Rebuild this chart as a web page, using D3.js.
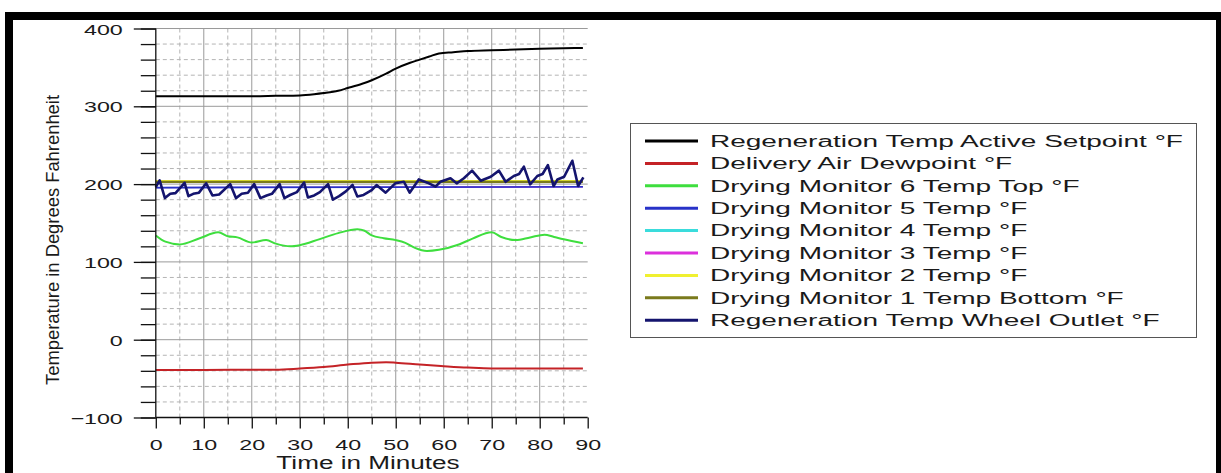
<!DOCTYPE html>
<html>
<head>
<meta charset="utf-8">
<script src="https://cdn.jsdelivr.net/npm/d3@7"></script>
<style>
  html, body { margin: 0; padding: 0; background: #fff; }
  svg { display: block; font-family: "Liberation Sans", Arial, Helvetica, sans-serif; }
</style>
</head>
<body>
<svg id="chart" width="1221" height="473"></svg>
<script>
// ---- readings (minutes, °F) ----
const setpointMin  = [0, 10, 20, 25, 30, 33, 35, 38, 40, 43, 45, 48, 50, 53, 55, 57, 59, 62, 65, 70, 75, 80, 85, 89];
const setpointTemp = [313, 313, 313, 313.5, 314, 315.5, 317, 320, 323.5, 329, 333.5, 342, 348.5, 356, 360, 364, 368, 369.5, 371, 372, 373, 374, 374.5, 375];

const dewpointMin  = [0, 10, 20, 25, 30, 35, 40, 45, 48, 50, 55, 60, 65, 70, 80, 89];
const dewpointTemp = [-39, -39, -38.5, -38.5, -37, -35, -32, -29.5, -29, -29.5, -32, -34, -35.8, -37, -37, -37];

const dm6Min  = [0, 2, 5, 9, 13, 15, 17, 20, 23, 25, 28, 30, 34, 38, 42, 43.5, 45, 47.5, 50, 52, 54, 56.5, 59, 63, 66, 70, 72, 75, 78, 81, 83, 85, 89];
const dm6Temp = [134, 126, 122.5, 130, 138, 133, 131.5, 125, 128, 123.5, 120, 121.5, 129, 137, 142, 140, 134, 130.5, 128, 124.5, 118, 114, 115.5, 122, 130, 138, 132, 128, 131.5, 135, 132, 129, 124];

const dm5Min  = [0, 89];
const dm5Temp = [195.5, 196.5];
const dm4Min  = [0, 89];
const dm4Temp = [195.5, 196.5];
const dm3Min  = [0, 89];
const dm3Temp = [195.5, 196.5];
const dm2Min  = [0, 89];
const dm2Temp = [204, 204];
const dm1Min  = [0, 89];
const dm1Temp = [202.8, 202.8];

const outletMin = [0, 0.8, 1.9, 3, 4.1, 6, 6.8, 7.8, 9, 10.5, 11.8, 13.2, 15.5, 16.7, 17.9, 19.2, 20.5, 21.8, 23.1, 24.2,
  25.8, 26.8, 28, 29.4, 30.9, 31.7, 33, 34.2, 35.9, 36.9, 38.2, 39.6, 41, 42, 43.3, 44.9, 46, 47.9, 49.9, 51.7,
  52.9, 54.8, 56.6, 58.3, 59.3, 61.4, 62.7, 64.2, 65.9, 67.7, 69.8, 71.5, 72.9, 74.6, 75.7, 76.7, 78, 79.5, 80.6,
  81.7, 82.9, 83.7, 85.1, 86.8, 88, 89.1];
const outletTemp = [196, 204.7, 182, 187.5, 188.4, 201.7, 184.5, 187.5, 189, 201, 185.4, 186.7, 200, 182, 187.5, 189, 200, 182, 185.4, 187.5,
  200, 182, 186, 189.7, 202, 182.8, 185.4, 189.7, 200, 180, 184.5, 190.6, 199, 184, 186, 191.8, 198.8, 189, 201, 203,
  189, 206, 201.8, 196.7, 203, 207.5, 201, 207.5, 217.3, 204.4, 209.5, 217.3, 203, 210.4, 213, 222.4, 199.7, 210.4, 213,
  224.5, 197.5, 206, 209.5, 230, 197.5, 208.7];

const seriesNames = [
  "Regeneration Temp Active Setpoint °F",
  "Delivery Air Dewpoint °F",
  "Drying Monitor 6 Temp Top °F",
  "Drying Monitor 5 Temp °F",
  "Drying Monitor 4 Temp °F",
  "Drying Monitor 3 Temp °F",
  "Drying Monitor 2 Temp °F",
  "Drying Monitor 1 Temp Bottom °F",
  "Regeneration Temp Wheel Outlet °F"
];
const seriesMinutes = [setpointMin, dewpointMin, dm6Min, dm5Min, dm4Min, dm3Min, dm2Min, dm1Min, outletMin];
const seriesTemps   = [setpointTemp, dewpointTemp, dm6Temp, dm5Temp, dm4Temp, dm3Temp, dm2Temp, dm1Temp, outletTemp];

const xTickValues = [0, 10, 20, 30, 40, 50, 60, 70, 80, 90];
const yTickValues = [-100, 0, 100, 200, 300, 400];
const xTitle = "Time in Minutes";
const yTitle = "Temperature in Degrees Fahrenheit";

// ---- styles ----
const colors = ["#000000", "#c42226", "#3ede3e", "#2832c8", "#3adcdc", "#dc30dc", "#f0f030", "#7a7a1c", "#14146e"];
const plotWidths = [2, 2, 2, 1.6, 1.4, 1.4, 2, 2.4, 2.6];
const drawOrder = [4, 5, 3, 6, 7, 1, 2, 0, 8];
const smooth = [true, true, true, false, false, false, false, false, false];

const svg = d3.select("#chart");

const x = d3.scaleLinear().domain([0, 90]).range([155.8, 587.7]);
const y = d3.scaleLinear().domain([-100, 400]).range([417.5, 28.5]);

// stretch text horizontally to a given factor of its natural width
function stretch(sel, factor) {
  sel.each(function () {
    const w = this.getComputedTextLength();
    d3.select(this).attr("textLength", w * factor).attr("lengthAdjust", "spacingAndGlyphs");
  });
}

// ---- grid ----
const grid = svg.append("g");
const vLines = d3.range(5, 90, 5);
grid.selectAll("line.v").data(vLines).join("line")
  .attr("x1", d => x(d)).attr("x2", d => x(d))
  .attr("y1", y(400)).attr("y2", y(-100))
  .attr("stroke", d => d % 10 === 0 ? "#9a9a9a" : "#b4b4b4")
  .attr("stroke-width", 1)
  .attr("stroke-dasharray", d => d % 10 === 0 ? null : "4,3");
const hLines = d3.range(-80, 401, 20);
grid.selectAll("line.h").data(hLines).join("line")
  .attr("x1", x(0)).attr("x2", x(90))
  .attr("y1", d => y(d)).attr("y2", d => y(d))
  .attr("stroke", d => d % 100 === 0 ? "#9a9a9a" : "#b4b4b4")
  .attr("stroke-width", 1)
  .attr("stroke-dasharray", d => d % 100 === 0 ? null : "4,3");

// ---- series ----
const plot = svg.append("g");
drawOrder.forEach(i => {
  const pts = seriesMinutes[i].map((m, k) => [m, seriesTemps[i][k]]);
  const line = d3.line().x(d => x(d[0])).y(d => y(d[1]))
    .curve(smooth[i] ? d3.curveMonotoneX : d3.curveLinear);
  plot.append("path")
    .attr("d", line(pts))
    .attr("fill", "none")
    .attr("stroke", colors[i])
    .attr("stroke-width", plotWidths[i])
    .attr("stroke-linejoin", "round");
});

// ---- axes ----
const tickFactor = 1.5;
const yMinor = svg.append("g").attr("transform", `translate(${x(0)},0)`)
  .call(d3.axisLeft(y).tickValues(d3.range(-100, 401, 20)).tickSize(15).tickFormat(""));
yMinor.select(".domain").remove();
const yMajor = svg.append("g").attr("transform", `translate(${x(0)},0)`)
  .call(d3.axisLeft(y).tickValues(yTickValues).tickSize(22).tickPadding(11)
    .tickFormat(d => d < 0 ? "\u2212" + Math.abs(d) : String(d)));
yMajor.select(".domain").attr("d", `M0,${y(400)}V${y(-100)}`);
const xMinor = svg.append("g").attr("transform", `translate(0,${y(-100)})`)
  .call(d3.axisBottom(x).tickValues(d3.range(5, 90, 10)).tickSize(7).tickFormat(""));
xMinor.select(".domain").remove();
const xMajor = svg.append("g").attr("transform", `translate(0,${y(-100)})`)
  .call(d3.axisBottom(x).tickValues(xTickValues).tickSize(11).tickPadding(10));
xMajor.select(".domain").attr("d", `M${x(0)},0H${x(90)}`);

svg.selectAll(".tick line, .domain").attr("stroke", "#111").attr("stroke-width", 1.3);
svg.selectAll(".tick text").attr("font-size", 15.5).attr("fill", "#1a1a1a")
  .attr("font-family", "'Liberation Sans', Arial, sans-serif");
yMajor.selectAll(".tick text").attr("dy", "0.36em");
stretch(svg.selectAll(".tick text"), tickFactor);

// axis titles
const xt = svg.append("text")
  .attr("x", 368).attr("y", 468.5)
  .attr("text-anchor", "middle").attr("font-size", 18).attr("fill", "#1a1a1a")
  .text(xTitle);
stretch(xt, 1.45);

svg.append("text")
  .attr("transform", `translate(59,240) rotate(-90)`)
  .attr("text-anchor", "middle").attr("font-size", 19).attr("fill", "#1a1a1a")
  .attr("textLength", 290).attr("lengthAdjust", "spacingAndGlyphs")
  .text(yTitle);

// ---- legend ----
const legend = svg.append("g");
legend.append("rect")
  .attr("x", 630.5).attr("y", 123.5).attr("width", 566).attr("height", 214)
  .attr("fill", "#fff").attr("stroke", "#555").attr("stroke-width", 1);
const rows = legend.selectAll("g.row").data(seriesNames).join("g")
  .attr("transform", (d, i) => `translate(0,${141 + i * 22.4})`);
rows.append("line")
  .attr("x1", 645).attr("x2", 698).attr("y1", 0).attr("y2", 0)
  .attr("stroke", (d, i) => colors[i]).attr("stroke-width", 3);
const legendText = rows.append("text")
  .attr("x", 710).attr("y", 5.8)
  .attr("font-size", 16).attr("fill", "#1a1a1a")
  .text(d => d);
stretch(legendText, 1.75);

// ---- outer frame ----
svg.append("rect")
  .attr("x", 9).attr("y", 16).attr("width", 1211).attr("height", 600)
  .attr("fill", "none").attr("stroke", "#000").attr("stroke-width", 8);
</script>
</body>
</html>
